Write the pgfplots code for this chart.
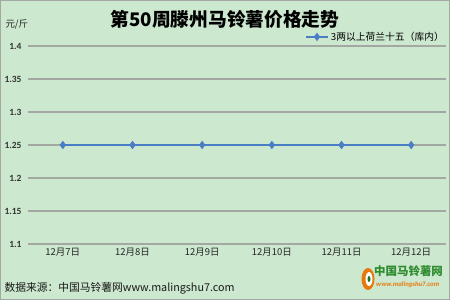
\documentclass[border=0pt]{standalone}
\usepackage{pgfplots}
\pgfplotsset{compat=1.18}
\usepackage{fontspec}
\setmainfont{Carlito}
\newfontfamily\cjk{Noto Sans CJK SC}
\definecolor{bgc}{HTML}{CCE8CF}
\definecolor{linec}{HTML}{4A7EC4}
\definecolor{gridc}{HTML}{A3A8A3}
\definecolor{logog}{HTML}{2E8B2E}
\definecolor{logoo}{HTML}{E8780A}
\begin{document}
\begin{tikzpicture}[x=1bp,y=1bp]
\fill[bgc] (0,0) rectangle (450,300);
\draw[gridc, line width=0.8bp] (0.4,0.4) rectangle (449.6,299.6);
\begin{axis}[
  at={(28bp,56bp)}, anchor=south west,
  scale only axis, width=418bp, height=198bp,
  xmin=-0.5, xmax=5.5, ymin=1.1, ymax=1.4,
  ytick={1.1,1.15,1.2,1.25,1.3,1.35,1.4},
  yticklabels={1.1,1.15,1.2,1.25,1.3,1.35,1.4},
  xtick={0,1,2,3,4,5},
  xticklabels={12月7日,12月8日,12月9日,12月10日,12月11日,12月12日},
  xticklabel style={font=\cjk\fontsize{9.5}{10}\selectfont, text=black!85, yshift=-1bp},
  yticklabel style={font=\bfseries\fontsize{9.5}{10}\selectfont, text=black!80, xshift=-3bp},
  axis line style={draw=none},
  tick style={draw=none},
  ymajorgrids, grid style={gridc, line width=1.2bp},
  legend style={at={(1,1)}, anchor=south east, draw=none, fill=none,
    font=\cjk\fontsize{9.8}{11}\selectfont, inner sep=0pt, yshift=2bp},
  legend cell align=left,
  legend image code/.code={\draw[mark repeat=2,mark phase=2,#1] plot coordinates {(0bp,0bp) (11bp,0bp) (22bp,0bp)};},
]
\addplot[linec, line width=2bp, mark=diamond*, mark size=2.6bp, mark options={fill=linec}]
  coordinates {(0,1.25) (1,1.25) (2,1.25) (3,1.25) (4,1.25) (5,1.25)};
\addlegendentry{3两以上荷兰十五（库内）}
\end{axis}
\node[font=\cjk\bfseries\fontsize{18.8}{20}\selectfont, text=black] at (225,281) {第50周滕州马铃薯价格走势};
\node[font=\cjk\fontsize{9.5}{10}\selectfont, anchor=west, text=black!85] at (2,276) {元/斤};
\node[font=\cjk\fontsize{10.8}{12}\selectfont, anchor=west, text=black!90] at (1,12) {数据来源：中国马铃薯网www.malingshu7.com};
\fill[logoo] (368,21) ellipse (6.5 and 11);
\fill[white] (369,21) ellipse (3.5 and 7);
\fill[logog!80!black] (369,21) ellipse (1.5 and 3);
\node[font=\cjk\bfseries\fontsize{11.5}{12}\selectfont, text=logog, anchor=west, inner sep=0pt] at (374,28.5) {中国马铃薯网};
\node[font=\bfseries\itshape\fontsize{6.8}{7}\selectfont, text=logoo, anchor=west, inner sep=0pt] at (376,15) {www.malingshu7.com};
\end{tikzpicture}
\end{document}
